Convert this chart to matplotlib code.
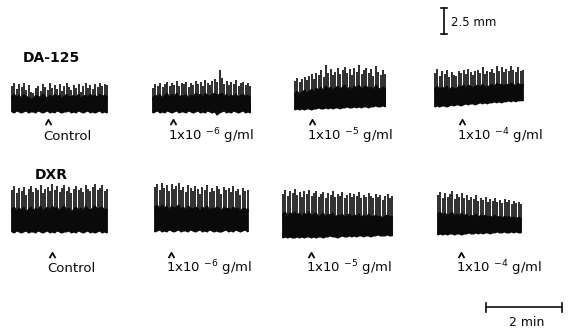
import matplotlib
matplotlib.use("Agg")
import matplotlib.pyplot as plt
from matplotlib.path import Path
import numpy as np

# ---------------- data ----------------
groups = ["DA-125", "DXR"]
conditions = ["Control",
              r"1x10 $^{-6}$ g/ml",
              r"1x10 $^{-5}$ g/ml",
              r"1x10 $^{-4}$ g/ml"]

scale_bar_mm = 2.5      # vertical calibration
scale_bar_min = 2       # horizontal calibration
scale_mm_label = "2.5 mm"
scale_min_label = "2 min"

# For every contraction: peak height, relaxation level and trace floor
# (mm above each trace's starting baseline)
da125_control_peaks = [2.6, 2.9, 2.3, 2.8, 2.5, 2.9, 2.2, 2.7, 2.0, 1.9, 2.4, 2.6, 2.1, 2.8,
                       2.5, 2.2, 2.9, 2.4, 2.7, 2.3, 2.8, 2.1, 2.6, 2.9, 2.5, 2.2, 2.7, 2.4,
                       2.8, 2.0, 2.6, 2.9, 2.4, 2.7, 2.3, 2.8, 2.5, 2.9, 2.6, 2.8, 2.7]
da125_control_relax = [1.6, 1.8, 1.5, 1.7, 1.4, 1.8, 1.6, 1.5, 1.3, 1.4, 1.7, 1.6, 1.5, 1.8,
                       1.6, 1.4, 1.7, 1.5, 1.8, 1.6, 1.7, 1.4, 1.6, 1.8, 1.5, 1.6, 1.7, 1.5,
                       1.8, 1.4, 1.6, 1.7, 1.5, 1.8, 1.6, 1.7, 1.5, 1.8, 1.6, 1.7, 1.6]
da125_control_floor = [0.1, 0.0, 0.2, 0.1, 0.0, 0.1, 0.2, 0.0, 0.1, 0.1, 0.0, 0.2, 0.1, 0.0,
                       0.1, 0.2, 0.0, 0.1, 0.0, 0.2, 0.1, 0.0, 0.1, 0.1, 0.2, 0.0, 0.1, 0.0,
                       0.2, 0.1, 0.0, 0.1, 0.2, 0.0, 0.1, 0.0, 0.1, 0.2, 0.0, 0.1, 0.0]

da125_e6_peaks = [2.4, 2.8, 2.6, 2.9, 2.5, 2.8, 3.0, 2.6, 2.9, 2.7, 3.1, 2.6, 2.9, 2.8,
                  3.0, 2.5, 2.9, 2.7, 3.1, 2.8, 3.0, 2.6, 3.2, 2.9, 2.7, 3.1, 3.3, 3.0,
                  4.1, 3.4, 2.8, 3.1, 2.7, 3.0, 2.8, 3.2, 2.6, 2.9, 3.0, 2.7, 2.9, 2.6]
da125_e6_relax = [1.5, 1.7, 1.6, 1.8, 1.4, 1.7, 1.9, 1.5, 1.8, 1.6, 1.9, 1.5, 1.7, 1.6,
                  1.8, 1.4, 1.7, 1.6, 1.9, 1.7, 1.8, 1.5, 1.9, 1.7, 1.6, 1.8, 1.9, 1.7,
                  1.8, 1.9, 1.6, 1.8, 1.5, 1.7, 1.6, 1.8, 1.5, 1.7, 1.8, 1.6, 1.7, 1.5]
da125_e6_floor = [0.0, 0.1, 0.2, 0.0, 0.1, 0.0, 0.2, 0.1, 0.0, 0.1, 0.2, 0.0, 0.1, 0.1,
                  0.0, 0.2, 0.1, 0.0, 0.1, 0.2, 0.0, 0.1, 0.0, 0.2, 0.1, 0.0, 0.1, -0.2,
                  0.0, 0.1, 0.2, 0.0, 0.1, 0.0, 0.2, 0.1, 0.0, 0.1, 0.2, 0.0, 0.1, 0.0]

da125_e5_peaks = [2.8, 3.1, 2.7, 3.0, 3.2, 2.9, 3.3, 3.5, 3.0, 3.6, 3.4, 3.8, 3.2, 4.3,
                  3.6, 3.9, 3.4, 3.7, 4.0, 3.5, 3.8, 4.1, 3.6, 3.9, 3.4, 4.0, 3.7, 4.3,
                  3.5, 3.8, 4.0, 3.6, 3.9, 3.3, 4.2, 3.7, 3.4, 3.8, 3.5]
da125_e5_relax = [1.6, 1.8, 1.5, 1.7, 1.9, 1.6, 1.8, 2.0, 1.7, 2.1, 1.9, 2.2, 1.8, 2.3,
                  2.0, 2.2, 1.9, 2.1, 2.3, 2.0, 2.2, 2.4, 2.0, 2.2, 1.9, 2.3, 2.1, 2.4,
                  2.0, 2.2, 2.3, 2.1, 2.2, 1.9, 2.4, 2.1, 2.0, 2.2, 2.1]
da125_e5_floor = [0.0, 0.1, 0.0, 0.1, 0.0, 0.1, 0.1, 0.0, 0.1, 0.1, 0.2, 0.1, 0.1, 0.2,
                  0.1, 0.2, 0.1, 0.2, 0.2, 0.1, 0.2, 0.2, 0.3, 0.2, 0.2, 0.3, 0.2, 0.3,
                  0.2, 0.3, 0.3, 0.2, 0.3, 0.3, 0.4, 0.3, 0.3, 0.4, 0.3]

da125_e4_peaks = [3.3, 3.7, 3.0, 3.5, 3.2, 3.6, 2.9, 3.4, 3.1, 3.0, 3.5, 3.3, 3.6, 3.2,
                  3.7, 3.4, 3.1, 3.5, 3.6, 3.3, 3.8, 3.2, 3.5, 3.4, 3.7, 3.3, 3.9, 3.5,
                  3.8, 3.4, 3.7, 3.5, 3.9, 3.6, 3.4, 3.8, 3.5, 3.6]
da125_e4_relax = [1.8, 2.0, 1.7, 1.9, 1.8, 2.0, 1.6, 1.9, 1.8, 1.7, 2.0, 1.9, 2.1, 1.8,
                  2.1, 2.0, 1.8, 2.0, 2.1, 1.9, 2.2, 1.9, 2.0, 2.0, 2.2, 1.9, 2.3, 2.1,
                  2.2, 2.0, 2.2, 2.1, 2.3, 2.2, 2.0, 2.3, 2.1, 2.2]
da125_e4_floor = [0.0, 0.1, 0.0, 0.1, 0.1, 0.0, 0.1, 0.2, 0.1, 0.2, 0.2, 0.1, 0.2, 0.3,
                  0.2, 0.3, 0.3, 0.2, 0.3, 0.4, 0.3, 0.4, 0.3, 0.4, 0.4, 0.5, 0.4, 0.5,
                  0.4, 0.5, 0.5, 0.6, 0.5, 0.6, 0.5, 0.6, 0.6, 0.6]

dxr_control_peaks = [4.1, 4.5, 3.8, 4.3, 4.0, 4.4, 3.7, 4.2, 4.5, 3.9, 4.3, 4.1, 4.6, 3.8,
                     4.2, 4.4, 4.0, 4.7, 4.1, 4.5, 3.9, 4.3, 4.6, 4.0, 4.4, 3.8, 4.2, 4.5,
                     4.1, 4.3, 3.9, 4.6, 4.2, 4.0, 4.4, 4.7, 4.1, 4.3, 4.6, 4.0, 4.2]
dxr_control_relax = [2.3, 2.5, 2.1, 2.4, 2.2, 2.5, 2.0, 2.3, 2.5, 2.1, 2.4, 2.2, 2.6, 2.1,
                     2.3, 2.5, 2.2, 2.6, 2.3, 2.5, 2.1, 2.4, 2.6, 2.2, 2.4, 2.0, 2.3, 2.5,
                     2.2, 2.4, 2.1, 2.6, 2.3, 2.2, 2.4, 2.6, 2.3, 2.4, 2.5, 2.2, 2.3]
dxr_control_floor = [0.1, 0.0, 0.2, 0.1, 0.0, 0.1, 0.2, 0.0, 0.1, 0.1, 0.0, 0.2, 0.1, 0.0,
                     0.1, 0.2, 0.0, 0.1, 0.0, 0.2, 0.1, 0.0, 0.1, 0.1, 0.2, 0.0, 0.1, 0.0,
                     0.2, 0.1, 0.0, 0.1, 0.2, 0.0, 0.1, 0.0, 0.1, 0.2, 0.0, 0.1, 0.0]

dxr_e6_peaks = [4.3, 4.6, 4.0, 4.7, 4.2, 4.5, 3.9, 4.6, 4.1, 4.4, 4.7, 4.0, 4.3, 3.8,
                4.5, 4.2, 3.9, 4.4, 4.1, 3.7, 4.3, 4.0, 4.5, 3.8, 4.2, 3.9, 4.4, 4.1,
                3.7, 4.3, 4.0, 4.2, 3.8, 4.4, 3.9, 4.1, 3.6, 4.2, 3.9, 4.0]
dxr_e6_relax = [2.4, 2.6, 2.2, 2.6, 2.3, 2.5, 2.1, 2.5, 2.3, 2.4, 2.6, 2.2, 2.4, 2.1,
                2.5, 2.3, 2.2, 2.4, 2.3, 2.0, 2.4, 2.2, 2.5, 2.1, 2.3, 2.2, 2.4, 2.3,
                2.0, 2.4, 2.2, 2.3, 2.1, 2.4, 2.2, 2.3, 2.0, 2.3, 2.2, 2.2]
dxr_e6_floor = [0.0, 0.1, 0.2, 0.0, 0.1, 0.0, 0.2, 0.1, 0.0, 0.1, 0.2, 0.0, 0.1, 0.1,
                0.0, 0.2, 0.1, 0.0, 0.1, 0.2, 0.0, 0.1, 0.0, 0.2, 0.1, 0.0, 0.1, 0.0,
                0.0, 0.1, 0.2, 0.0, 0.1, 0.0, 0.2, 0.1, 0.0, 0.1, 0.2, 0.0]

dxr_e5_peaks = [4.2, 4.6, 4.0, 4.5, 4.3, 4.7, 4.1, 4.4, 3.9, 4.5, 4.2, 4.6, 4.0, 4.3,
                4.5, 3.9, 4.2, 4.4, 3.8, 4.3, 4.1, 4.5, 3.9, 4.2, 4.0, 4.4, 3.8, 4.1,
                4.3, 3.9, 4.2, 4.0, 4.4, 3.8, 4.1, 3.9, 4.3, 4.0, 3.8, 4.2, 3.9, 4.1,
                3.7, 4.0, 4.2, 3.8, 4.0]
dxr_e5_relax = [2.3, 2.5, 2.1, 2.4, 2.3, 2.5, 2.2, 2.4, 2.0, 2.4, 2.2, 2.5, 2.1, 2.3,
                2.4, 2.0, 2.2, 2.4, 2.0, 2.3, 2.2, 2.4, 2.0, 2.2, 2.1, 2.3, 2.0, 2.2,
                2.3, 2.0, 2.2, 2.1, 2.3, 2.0, 2.2, 2.0, 2.3, 2.1, 2.0, 2.2, 2.0, 2.1,
                1.9, 2.1, 2.2, 2.0, 2.1]
dxr_e5_floor = [0.0, 0.1, 0.0, 0.1, 0.0, 0.0, 0.1, 0.0, 0.1, 0.0, 0.1, 0.1, 0.0, 0.1,
                0.0, 0.1, 0.1, 0.0, 0.1, 0.1, 0.2, 0.1, 0.1, 0.0, 0.1, 0.2, 0.1, 0.1,
                0.2, 0.1, 0.2, 0.1, 0.2, 0.2, 0.1, 0.2, 0.2, 0.1, 0.2, 0.2, 0.3, 0.2,
                0.2, 0.2, 0.3, 0.2, 0.2]

dxr_e4_peaks = [3.8, 4.1, 3.6, 4.0, 3.7, 3.9, 4.2, 3.5, 3.9, 3.7, 4.0, 3.6, 3.8, 3.4,
                3.7, 3.5, 3.8, 3.3, 3.6, 3.4, 3.7, 3.2, 3.5, 3.3, 3.6, 3.2, 3.4, 3.1,
                3.5, 3.2, 3.4, 3.0, 3.3, 3.1, 3.2, 3.0]
dxr_e4_relax = [2.0, 2.2, 1.9, 2.1, 1.9, 2.0, 2.2, 1.8, 2.0, 1.9, 2.1, 1.8, 2.0, 1.7,
                1.9, 1.8, 2.0, 1.7, 1.9, 1.8, 1.9, 1.7, 1.8, 1.7, 1.9, 1.7, 1.8, 1.6,
                1.8, 1.7, 1.8, 1.6, 1.7, 1.6, 1.7, 1.6]
dxr_e4_floor = [0.0, 0.1, 0.0, 0.1, 0.0, 0.1, 0.1, 0.0, 0.1, 0.1, 0.0, 0.1, 0.1, 0.2,
                0.1, 0.1, 0.2, 0.1, 0.2, 0.1, 0.2, 0.2, 0.1, 0.2, 0.2, 0.3, 0.2, 0.2,
                0.3, 0.2, 0.2, 0.3, 0.2, 0.3, 0.2, 0.2]

cycle_min = 1 / 16      # one contraction every 3.75 s

# ---------------- layout (pixels of the 572x332 canvas) ----------------
W, H, DPI = 572, 332, 100
PX_PER_MIN = 38.0
PX_PER_MM = 10.4

traces = [
    [(da125_control_peaks, da125_control_relax, da125_control_floor),
     (da125_e6_peaks, da125_e6_relax, da125_e6_floor),
     (da125_e5_peaks, da125_e5_relax, da125_e5_floor),
     (da125_e4_peaks, da125_e4_relax, da125_e4_floor)],
    [(dxr_control_peaks, dxr_control_relax, dxr_control_floor),
     (dxr_e6_peaks, dxr_e6_relax, dxr_e6_floor),
     (dxr_e5_peaks, dxr_e5_relax, dxr_e5_floor),
     (dxr_e4_peaks, dxr_e4_relax, dxr_e4_floor)],
]
trace_left_px = [[12, 153, 295, 435], [12, 155, 283, 438]]
trace_base_px = [[113, 113, 110, 107], [233, 232, 238, 235]]
label_left_px = [[43, 168, 307, 457], [47, 166, 306, 456]]
caret_dx_px = [5, 5, 5, 5]
label_base_px = [140, 272]
caret_y_px = [122, 255]
group_pos_px = [(23, 58), (35, 175)]

plt.rcParams['font.family'] = ['DejaVu Sans']
plt.rcParams['mathtext.fontset'] = 'dejavusans'
plt.rcParams['mathtext.default'] = 'regular'

fig = plt.figure(figsize=(W / DPI, H / DPI), dpi=DPI)
fig.patch.set_facecolor('white')
ax = fig.add_axes([0, 0, 1, 1])
ax.set_xlim(0, W / PX_PER_MIN)       # minutes
ax.set_ylim(0, H / PX_PER_MM)        # millimetres
ax.axis('off')


def fx(px):
    return px / W


def fy(py):
    return 1 - py / H


INK = '#0a0a0a'
caret_marker = Path([(-1.0, -0.9), (0.0, 0.9), (1.0, -0.9)],
                    [Path.MOVETO, Path.LINETO, Path.LINETO])

for r in range(2):
    for c in range(4):
        peaks, relax, floor = (np.asarray(a, float) for a in traces[r][c])
        n = min(len(peaks), len(relax), len(floor))
        peaks, relax, floor = peaks[:n], relax[:n], floor[:n]
        t = np.arange(n) * cycle_min
        x0 = trace_left_px[r][c] / PX_PER_MIN
        y0 = (H - trace_base_px[r][c]) / PX_PER_MM
        xs = x0 + t
        # solid band where successive pen excursions overlap
        ax.fill(np.r_[xs, xs[::-1]], np.r_[y0 + relax, y0 + floor[::-1]],
                color=INK, lw=0.8, ec=INK)
        # individual contraction strokes
        ax.vlines(xs, y0 + relax - 0.3, y0 + peaks, color=INK, lw=1.2)
        ax.vlines(xs, y0 + floor, y0 + relax, color=INK, lw=1.2)

        # drug-addition marker (caret) + condition label
        lx = label_left_px[r][c]
        ax.plot([(lx + caret_dx_px[c]) / PX_PER_MIN], [(H - caret_y_px[r]) / PX_PER_MM],
                marker=caret_marker, markersize=4.2, markeredgewidth=1.3,
                markerfacecolor='none', markeredgecolor=INK, linestyle='none')
        fig.text(fx(lx), fy(label_base_px[r]), conditions[c], ha='left',
                 va='baseline', fontsize=9.5, color=INK)

for g, (gx, gy) in zip(groups, group_pos_px):
    fig.text(fx(gx), fy(gy), g, ha='left', va='center', fontsize=10,
             fontweight='bold', color=INK)

# vertical calibration bar (2.5 mm)
bx = 444 / PX_PER_MIN
by = (H - 34) / PX_PER_MM
serif = 3 / PX_PER_MIN
ax.plot([bx, bx], [by, by + scale_bar_mm], color=INK, lw=1.2)
ax.plot([bx - serif, bx + serif], [by, by], color=INK, lw=1.2)
ax.plot([bx - serif, bx + serif], [by + scale_bar_mm] * 2, color=INK, lw=1.2)
fig.text(fx(451), fy(22), scale_mm_label, ha='left', va='center', fontsize=8.5,
         color=INK)

# horizontal calibration bar (2 min)
tx = 486 / PX_PER_MIN
ty = (H - 307) / PX_PER_MM
tick = 4.5 / PX_PER_MM
ax.plot([tx, tx + scale_bar_min], [ty, ty], color=INK, lw=1.2)
ax.plot([tx, tx], [ty - tick, ty + tick], color=INK, lw=1.2)
ax.plot([tx + scale_bar_min] * 2, [ty - tick, ty + tick], color=INK, lw=1.2)
fig.text(fx(527), fy(322), scale_min_label, ha='center', va='center', fontsize=9,
         color=INK)

fig.savefig('out.png', dpi=DPI, facecolor='white')
